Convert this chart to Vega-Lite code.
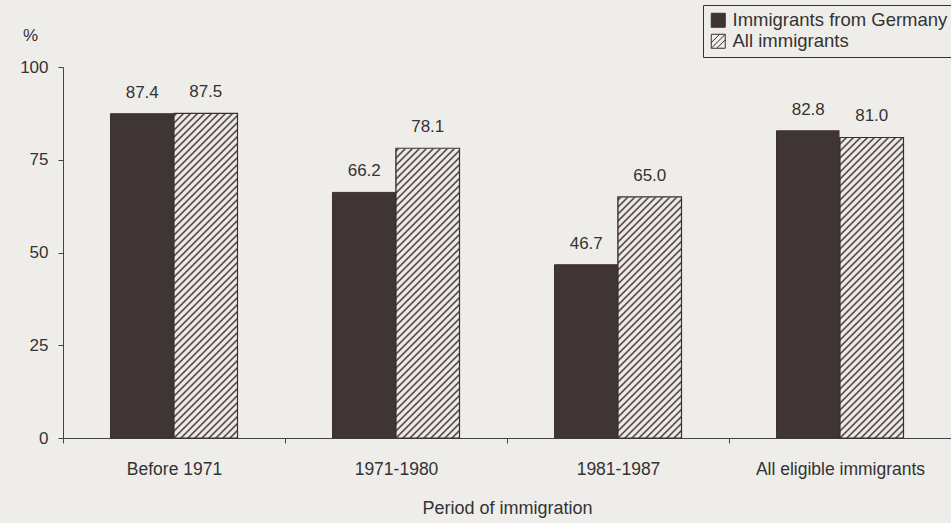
{
"$schema":"https://vega.github.io/schema/vega-lite/v6.json",
"width":888,"height":371,
"autosize":{"type":"none"},
"padding":{"left":63,"top":67,"right":0,"bottom":85},
"background":"#efedea",
"config":{"view":{"stroke":null},"font":"Liberation Sans",
"axisY":{"titleAngle":0,"titleAlign":"center","titleBaseline":"middle","titleX":-33,"titleY":-32,"titleFontSize":17,"titleFontWeight":"normal","titleColor":"#333","grid":false,"tickSize":5,"labelPadding":10,"labelFontSize":17,"labelColor":"#333","domainColor":"#444","tickColor":"#444"}},
"data":{"values":[
{"period":"Before 1971","group":"Immigrants from Germany","value":87.4},
{"period":"Before 1971","group":"All immigrants","value":87.5},
{"period":"1971-1980","group":"Immigrants from Germany","value":66.2},
{"period":"1971-1980","group":"All immigrants","value":78.1},
{"period":"1981-1987","group":"Immigrants from Germany","value":46.7},
{"period":"1981-1987","group":"All immigrants","value":65.0},
{"period":"All eligible immigrants","group":"Immigrants from Germany","value":82.8},
{"period":"All eligible immigrants","group":"All immigrants","value":81.0}
]},
"encoding":{
"x":{"field":"period","type":"nominal","sort":["Before 1971","1971-1980","1981-1987","All eligible immigrants"],
"scale":{"paddingInner":0,"paddingOuter":0},
"axis":{"title":"Period of immigration","titleFontSize":18,"titleFontWeight":"normal","titleColor":"#333","titlePadding":22,"labelAngle":0,"labelFontSize":17.5,"labelColor":"#333","labelPadding":17,"tickSize":5,"tickBand":"extent","domainColor":"#444","tickColor":"#444"}},
"xOffset":{"field":"group","type":"nominal","sort":["Immigrants from Germany","All immigrants"],
"scale":{"domain":["Immigrants from Germany","All immigrants"],"paddingInner":0,"paddingOuter":0.748}}
},
"layer":[
{"mark":{"type":"bar","stroke":"#3a3030","strokeWidth":1},
"encoding":{
"y":{"field":"value","type":"quantitative","title":"%","scale":{"domain":[0,100]},"axis":{"values":[0,25,50,75,100],"encode":{"ticks":{"update":{"x2":{"value":5}}}}}},
"fill":{"field":"group","type":"nominal","scale":{"domain":["Immigrants from Germany","All immigrants"],"range":["#3f3535","#efedea"]},
"legend":{"title":null,"orient":"none","legendX":640,"legendY":-62,"direction":"vertical","strokeColor":"#3a3030","fillColor":"#efedea","padding":6,"labelFontSize":18.5,"labelLimit":400,"labelColor":"#333","symbolType":"M-1,-1H1V1H-1Z M-1,0.2L0.2,-1 M-1,1L1,-1 M-0.2,1L1,-0.2","symbolSize":196,"symbolStrokeColor":"#3a3030","symbolStrokeWidth":1,"rowPadding":2,"labelOffset":5}}
}},
{"transform":[{"filter":"datum.group === 'All immigrants'"}],
"mark":{"type":"bar","strokeWidth":0,"fill":{"gradient":"linear","x1":0,"y1":0,"x2":0.19609,"y2":1.14568,"stops":[
{"offset":0,"color":"#4d3f3f"},{"offset":0.005,"color":"#efedea"},{"offset":0.011,"color":"#efedea"},
{"offset":0.016,"color":"#4d3f3f"},{"offset":0.021,"color":"#efedea"},{"offset":0.027,"color":"#efedea"},
{"offset":0.032,"color":"#4d3f3f"},{"offset":0.037,"color":"#efedea"},{"offset":0.043,"color":"#efedea"},
{"offset":0.048,"color":"#4d3f3f"},{"offset":0.053,"color":"#efedea"},{"offset":0.059,"color":"#efedea"},
{"offset":0.064,"color":"#4d3f3f"},{"offset":0.069,"color":"#efedea"},{"offset":0.075,"color":"#efedea"},
{"offset":0.08,"color":"#4d3f3f"},{"offset":0.085,"color":"#efedea"},{"offset":0.091,"color":"#efedea"},
{"offset":0.096,"color":"#4d3f3f"},{"offset":0.101,"color":"#efedea"},{"offset":0.107,"color":"#efedea"},
{"offset":0.112,"color":"#4d3f3f"},{"offset":0.117,"color":"#efedea"},{"offset":0.123,"color":"#efedea"},
{"offset":0.128,"color":"#4d3f3f"},{"offset":0.133,"color":"#efedea"},{"offset":0.139,"color":"#efedea"},
{"offset":0.144,"color":"#4d3f3f"},{"offset":0.149,"color":"#efedea"},{"offset":0.155,"color":"#efedea"},
{"offset":0.16,"color":"#4d3f3f"},{"offset":0.165,"color":"#efedea"},{"offset":0.171,"color":"#efedea"},
{"offset":0.176,"color":"#4d3f3f"},{"offset":0.181,"color":"#efedea"},{"offset":0.187,"color":"#efedea"},
{"offset":0.192,"color":"#4d3f3f"},{"offset":0.197,"color":"#efedea"},{"offset":0.203,"color":"#efedea"},
{"offset":0.208,"color":"#4d3f3f"},{"offset":0.213,"color":"#efedea"},{"offset":0.219,"color":"#efedea"},
{"offset":0.224,"color":"#4d3f3f"},{"offset":0.229,"color":"#efedea"},{"offset":0.235,"color":"#efedea"},
{"offset":0.24,"color":"#4d3f3f"},{"offset":0.245,"color":"#efedea"},{"offset":0.251,"color":"#efedea"},
{"offset":0.256,"color":"#4d3f3f"},{"offset":0.261,"color":"#efedea"},{"offset":0.267,"color":"#efedea"},
{"offset":0.272,"color":"#4d3f3f"},{"offset":0.277,"color":"#efedea"},{"offset":0.283,"color":"#efedea"},
{"offset":0.288,"color":"#4d3f3f"},{"offset":0.293,"color":"#efedea"},{"offset":0.299,"color":"#efedea"},
{"offset":0.304,"color":"#4d3f3f"},{"offset":0.309,"color":"#efedea"},{"offset":0.315,"color":"#efedea"},
{"offset":0.32,"color":"#4d3f3f"},{"offset":0.325,"color":"#efedea"},{"offset":0.331,"color":"#efedea"},
{"offset":0.336,"color":"#4d3f3f"},{"offset":0.341,"color":"#efedea"},{"offset":0.347,"color":"#efedea"},
{"offset":0.352,"color":"#4d3f3f"},{"offset":0.357,"color":"#efedea"},{"offset":0.363,"color":"#efedea"},
{"offset":0.368,"color":"#4d3f3f"},{"offset":0.373,"color":"#efedea"},{"offset":0.379,"color":"#efedea"},
{"offset":0.384,"color":"#4d3f3f"},{"offset":0.389,"color":"#efedea"},{"offset":0.395,"color":"#efedea"},
{"offset":0.4,"color":"#4d3f3f"},{"offset":0.405,"color":"#efedea"},{"offset":0.411,"color":"#efedea"},
{"offset":0.416,"color":"#4d3f3f"},{"offset":0.421,"color":"#efedea"},{"offset":0.427,"color":"#efedea"},
{"offset":0.432,"color":"#4d3f3f"},{"offset":0.437,"color":"#efedea"},{"offset":0.443,"color":"#efedea"},
{"offset":0.448,"color":"#4d3f3f"},{"offset":0.453,"color":"#efedea"},{"offset":0.459,"color":"#efedea"},
{"offset":0.464,"color":"#4d3f3f"},{"offset":0.469,"color":"#efedea"},{"offset":0.475,"color":"#efedea"},
{"offset":0.48,"color":"#4d3f3f"},{"offset":0.485,"color":"#efedea"},{"offset":0.491,"color":"#efedea"},
{"offset":0.496,"color":"#4d3f3f"},{"offset":0.501,"color":"#efedea"},{"offset":0.507,"color":"#efedea"},
{"offset":0.512,"color":"#4d3f3f"},{"offset":0.517,"color":"#efedea"},{"offset":0.523,"color":"#efedea"},
{"offset":0.528,"color":"#4d3f3f"},{"offset":0.533,"color":"#efedea"},{"offset":0.539,"color":"#efedea"},
{"offset":0.544,"color":"#4d3f3f"},{"offset":0.549,"color":"#efedea"},{"offset":0.555,"color":"#efedea"},
{"offset":0.56,"color":"#4d3f3f"},{"offset":0.565,"color":"#efedea"},{"offset":0.571,"color":"#efedea"},
{"offset":0.576,"color":"#4d3f3f"},{"offset":0.581,"color":"#efedea"},{"offset":0.587,"color":"#efedea"},
{"offset":0.592,"color":"#4d3f3f"},{"offset":0.597,"color":"#efedea"},{"offset":0.603,"color":"#efedea"},
{"offset":0.608,"color":"#4d3f3f"},{"offset":0.613,"color":"#efedea"},{"offset":0.619,"color":"#efedea"},
{"offset":0.624,"color":"#4d3f3f"},{"offset":0.629,"color":"#efedea"},{"offset":0.635,"color":"#efedea"},
{"offset":0.64,"color":"#4d3f3f"},{"offset":0.645,"color":"#efedea"},{"offset":0.651,"color":"#efedea"},
{"offset":0.656,"color":"#4d3f3f"},{"offset":0.661,"color":"#efedea"},{"offset":0.667,"color":"#efedea"},
{"offset":0.672,"color":"#4d3f3f"},{"offset":0.677,"color":"#efedea"},{"offset":0.683,"color":"#efedea"},
{"offset":0.688,"color":"#4d3f3f"},{"offset":0.693,"color":"#efedea"},{"offset":0.699,"color":"#efedea"},
{"offset":0.704,"color":"#4d3f3f"},{"offset":0.709,"color":"#efedea"},{"offset":0.715,"color":"#efedea"},
{"offset":0.72,"color":"#4d3f3f"},{"offset":0.725,"color":"#efedea"},{"offset":0.731,"color":"#efedea"},
{"offset":0.736,"color":"#4d3f3f"},{"offset":0.741,"color":"#efedea"},{"offset":0.747,"color":"#efedea"},
{"offset":0.752,"color":"#4d3f3f"},{"offset":0.757,"color":"#efedea"},{"offset":0.763,"color":"#efedea"},
{"offset":0.768,"color":"#4d3f3f"},{"offset":0.773,"color":"#efedea"},{"offset":0.779,"color":"#efedea"},
{"offset":0.784,"color":"#4d3f3f"},{"offset":0.789,"color":"#efedea"},{"offset":0.795,"color":"#efedea"},
{"offset":0.8,"color":"#4d3f3f"},{"offset":0.805,"color":"#efedea"},{"offset":0.811,"color":"#efedea"},
{"offset":0.816,"color":"#4d3f3f"},{"offset":0.821,"color":"#efedea"},{"offset":0.827,"color":"#efedea"},
{"offset":0.832,"color":"#4d3f3f"},{"offset":0.837,"color":"#efedea"},{"offset":0.843,"color":"#efedea"},
{"offset":0.848,"color":"#4d3f3f"},{"offset":0.853,"color":"#efedea"},{"offset":0.859,"color":"#efedea"},
{"offset":0.864,"color":"#4d3f3f"},{"offset":0.869,"color":"#efedea"},{"offset":0.875,"color":"#efedea"},
{"offset":0.88,"color":"#4d3f3f"},{"offset":0.885,"color":"#efedea"},{"offset":0.891,"color":"#efedea"},
{"offset":0.896,"color":"#4d3f3f"},{"offset":0.901,"color":"#efedea"},{"offset":0.907,"color":"#efedea"},
{"offset":0.912,"color":"#4d3f3f"},{"offset":0.917,"color":"#efedea"},{"offset":0.923,"color":"#efedea"},
{"offset":0.928,"color":"#4d3f3f"},{"offset":0.933,"color":"#efedea"},{"offset":0.939,"color":"#efedea"},
{"offset":0.944,"color":"#4d3f3f"},{"offset":0.949,"color":"#efedea"},{"offset":0.955,"color":"#efedea"},
{"offset":0.96,"color":"#4d3f3f"},{"offset":0.965,"color":"#efedea"},{"offset":0.971,"color":"#efedea"},
{"offset":0.976,"color":"#4d3f3f"},{"offset":0.981,"color":"#efedea"},{"offset":0.987,"color":"#efedea"},
{"offset":0.992,"color":"#4d3f3f"},{"offset":0.997,"color":"#efedea"},{"offset":1,"color":"#efedea"}
]}},
"encoding":{"y":{"datum":100,"type":"quantitative","title":"%","axis":{"values":[0,25,50,75,100]}},"y2":{"datum":0}}},
{"transform":[{"filter":"datum.group === 'All immigrants'"}],
"mark":{"type":"bar","fill":"#efedea","stroke":"#efedea","strokeWidth":1},
"encoding":{"y":{"field":"value","type":"quantitative","title":"%","axis":{"values":[0,25,50,75,100]}},"y2":{"datum":100}}},
{"transform":[{"filter":"datum.group === 'All immigrants'"}],
"mark":{"type":"bar","fillOpacity":0,"stroke":"#3a3030","strokeWidth":1.2},
"encoding":{"y":{"field":"value","type":"quantitative","title":"%","axis":{"values":[0,25,50,75,100]}}}},
{"mark":{"type":"text","dy":-21,"baseline":"middle","align":"center","fontSize":17,"color":"#333"},
"encoding":{"y":{"field":"value","type":"quantitative","title":"%","axis":{"values":[0,25,50,75,100]}},"text":{"field":"value","type":"quantitative","format":".1f"}}}
]
}
